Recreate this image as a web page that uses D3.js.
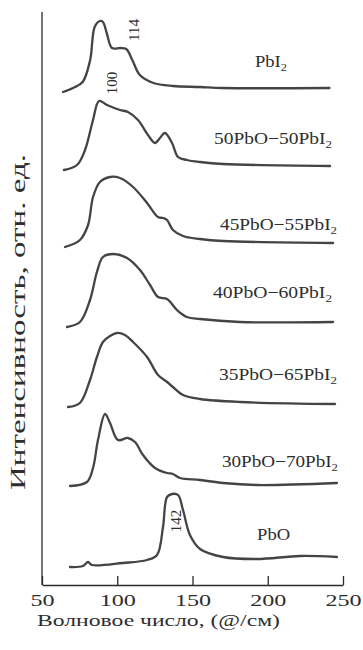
<!DOCTYPE html>
<html>
<head>
<meta charset="utf-8">
<script src="https://cdn.jsdelivr.net/npm/d3@7"></script>
<style>
html,body{margin:0;padding:0;background:#fff;}
svg{display:block;}
text{font-family:"Liberation Serif","Times New Roman",serif;fill:#2e2e2e;}
</style>
</head>
<body>
<svg id="chart" width="363" height="650"></svg>
<script>
// ---- data (wavenumber, relative intensity) ----
const xTicks = [50, 100, 150, 200, 250];
const xTitle = "Волновое число, (@/см)";
const yTitle = "Интенсивность, отн. ед.";

const sPbI2 = [[64,-0.4],[70.6,0],[77,0.6],[82,2.8],[85,6.1],[88.5,6.7],[90.5,6.6],[93,5.5],[96.5,4.0],[102,4.0],[106,3.9],[110,2.8],[115,1.3],[124,0.5],[137,0.2],[155,0.1],[170,0],[241,0]];
const s50 = [[64.6,-0.5],[73.3,0],[78.6,1.5],[83.9,4.5],[87.9,6.4],[93.2,6.0],[101.8,5.5],[107.1,5.3],[113.8,4.5],[120.4,3.0],[125.1,2.2],[128.4,2.7],[131.7,3.2],[136.4,2.2],[140.4,0.8],[146.3,0.5],[155,0.3],[170.3,0.1],[241.4,-0.1]];
const s45 = [[65.3,-0.7],[75.2,0],[80.6,1.5],[83.9,4.3],[88.5,5.8],[95.2,6.3],[101.8,6.2],[110.5,5.3],[119.8,3.7],[127.1,2.3],[130.4,2.2],[133.1,2.0],[137,1.0],[143.7,0.4],[155,0.1],[170.3,-0.1],[243.4,-0.3]];
const s40 = [[66.6,-0.7],[75.2,-0.2],[81.9,2.0],[86.5,4.8],[90.5,6.3],[97.2,6.6],[106.5,6.2],[115.1,5.0],[121.8,3.5],[127.1,2.3],[133.1,2.1],[139.7,1.0],[146.3,0.3],[155,0.1],[181.6,-0.2],[243.4,-0.2]];
const s35 = [[67.3,-0.7],[75.2,-0.3],[81.9,2.0],[86.5,4.3],[90.5,5.8],[95.2,6.4],[99.8,6.7],[105.1,6.5],[110.5,5.8],[119.8,4.3],[127.1,2.5],[133.1,1.8],[137,1.3],[143.7,0.5],[155,0.1],[181.6,-0.2],[244.7,-0.4]];
const s30 = [[68.6,-0.6],[79.9,-0.2],[83.9,1.2],[87.2,4.0],[91.9,6.6],[95.2,5.7],[100.5,4.0],[107.1,4.2],[111.8,3.8],[117.1,2.5],[125.1,1.2],[133.1,0.7],[137,0.6],[141.7,0.2],[155,0],[170.3,-0.3],[192.9,-0.5],[246,-0.3]];
const sPbO = [[68.6,-0.7],[77.2,-0.6],[80.6,-0.2],[83.2,-0.5],[103.8,-0.3],[119.8,0],[126.4,0.5],[130.4,3.3],[133.1,6.3],[136.4,6.6],[140.4,6.5],[143.7,5.0],[148.3,2.5],[155,1.1],[170.3,0.3],[192.9,0.1],[221.4,0.4],[246,0.3]];

const seriesList = [sPbI2, s50, s45, s40, s35, s30, sPbO];
const offsets = [49.7, 42.0, 34.5, 26.5, 18.5, 10.5, 2.5];
const labelMain = ["PbI", "50PbO\u221250PbI", "45PbO\u221255PbI", "40PbO\u221260PbI", "35PbO\u221265PbI", "30PbO\u221270PbI", "PbO"];
const labelSub = ["2", "2", "2", "2", "2", "2", ""];
// label anchor: [wavenumber, intensity above series offset]
const labelPos = [[191.5, 2.1], [164.3, 2.1], [168.3, 1.0], [163.6, 2.2], [167.6, 2.0], [169.6, 1.3], [192.9, 2.0]];
const labelLen = [32, 118, 117, 119, 118, 116, 33];
const peakLabels = ["114", "100", "142"];
const peakPos = [[111, 55.5], [96.5, 50.2], [139, 6.4]];

// ---- drawing ----
const svg = d3.select("#chart");
const x = d3.scaleLinear().domain([50, 250]).range([42, 343]);
const y = d3.scaleLinear().domain([0, 57.3]).range([585, 12]);

const line = d3.line()
  .x(d => x(d[0]))
  .y(d => y(d[1]))
  .curve(d3.curveCatmullRom.alpha(0.5));

seriesList.forEach((s, i) => {
  svg.append("path")
    .datum(s.map(d => [d[0], d[1] + offsets[i]]))
    .attr("d", line)
    .attr("fill", "none")
    .attr("stroke", "#444")
    .attr("stroke-width", 2.3)
    .attr("stroke-linejoin", "round")
    .attr("stroke-linecap", "round");
});

// curve labels
labelMain.forEach((t, i) => {
  const tx = svg.append("text")
    .attr("x", x(labelPos[i][0]))
    .attr("y", y(offsets[i] + labelPos[i][1]))
    .attr("font-size", 16.5)
    .attr("textLength", labelLen[i])
    .attr("lengthAdjust", "spacingAndGlyphs");
  tx.append("tspan").text(t);
  if (labelSub[i]) {
    tx.append("tspan").attr("dy", 4).attr("font-size", 11).text(labelSub[i]);
  }
});

// peak labels (rotated)
peakLabels.forEach((t, i) => {
  svg.append("text")
    .attr("transform", `translate(${x(peakPos[i][0])},${y(peakPos[i][1])}) rotate(-90)`)
    .attr("text-anchor", "middle")
    .attr("dy", "0.35em")
    .attr("font-size", 15)
    .text(t);
});

// axes
const xAxis = d3.axisBottom(x).tickValues(xTicks).tickSize(-9).tickSizeOuter(0).tickPadding(9);
const gx = svg.append("g").attr("transform", `translate(0,${y(0)})`).call(xAxis);
gx.select(".domain").attr("stroke", "#2a2a2a").attr("stroke-width", 1.3);
gx.selectAll(".tick line").attr("stroke", "#2a2a2a").attr("stroke-width", 1.3);
gx.selectAll(".tick text")
  .attr("font-family", "Liberation Serif, serif")
  .attr("font-size", 17.5)
  .attr("fill", "#2e2e2e")
  .attr("transform", "scale(1.38,1)");

svg.append("line")
  .attr("x1", x(50)).attr("x2", x(50))
  .attr("y1", y(0)).attr("y2", y(57.3))
  .attr("stroke", "#2a2a2a").attr("stroke-width", 1.3);

svg.append("text")
  .attr("x", 37).attr("y", 626)
  .attr("font-size", 17.5)
  .attr("textLength", 243)
  .attr("lengthAdjust", "spacingAndGlyphs")
  .text(xTitle);

svg.append("text")
  .attr("transform", "translate(25,490) rotate(-90)")
  .attr("font-size", 22)
  .attr("textLength", 336)
  .attr("lengthAdjust", "spacingAndGlyphs")
  .text(yTitle);
</script>
</body>
</html>
